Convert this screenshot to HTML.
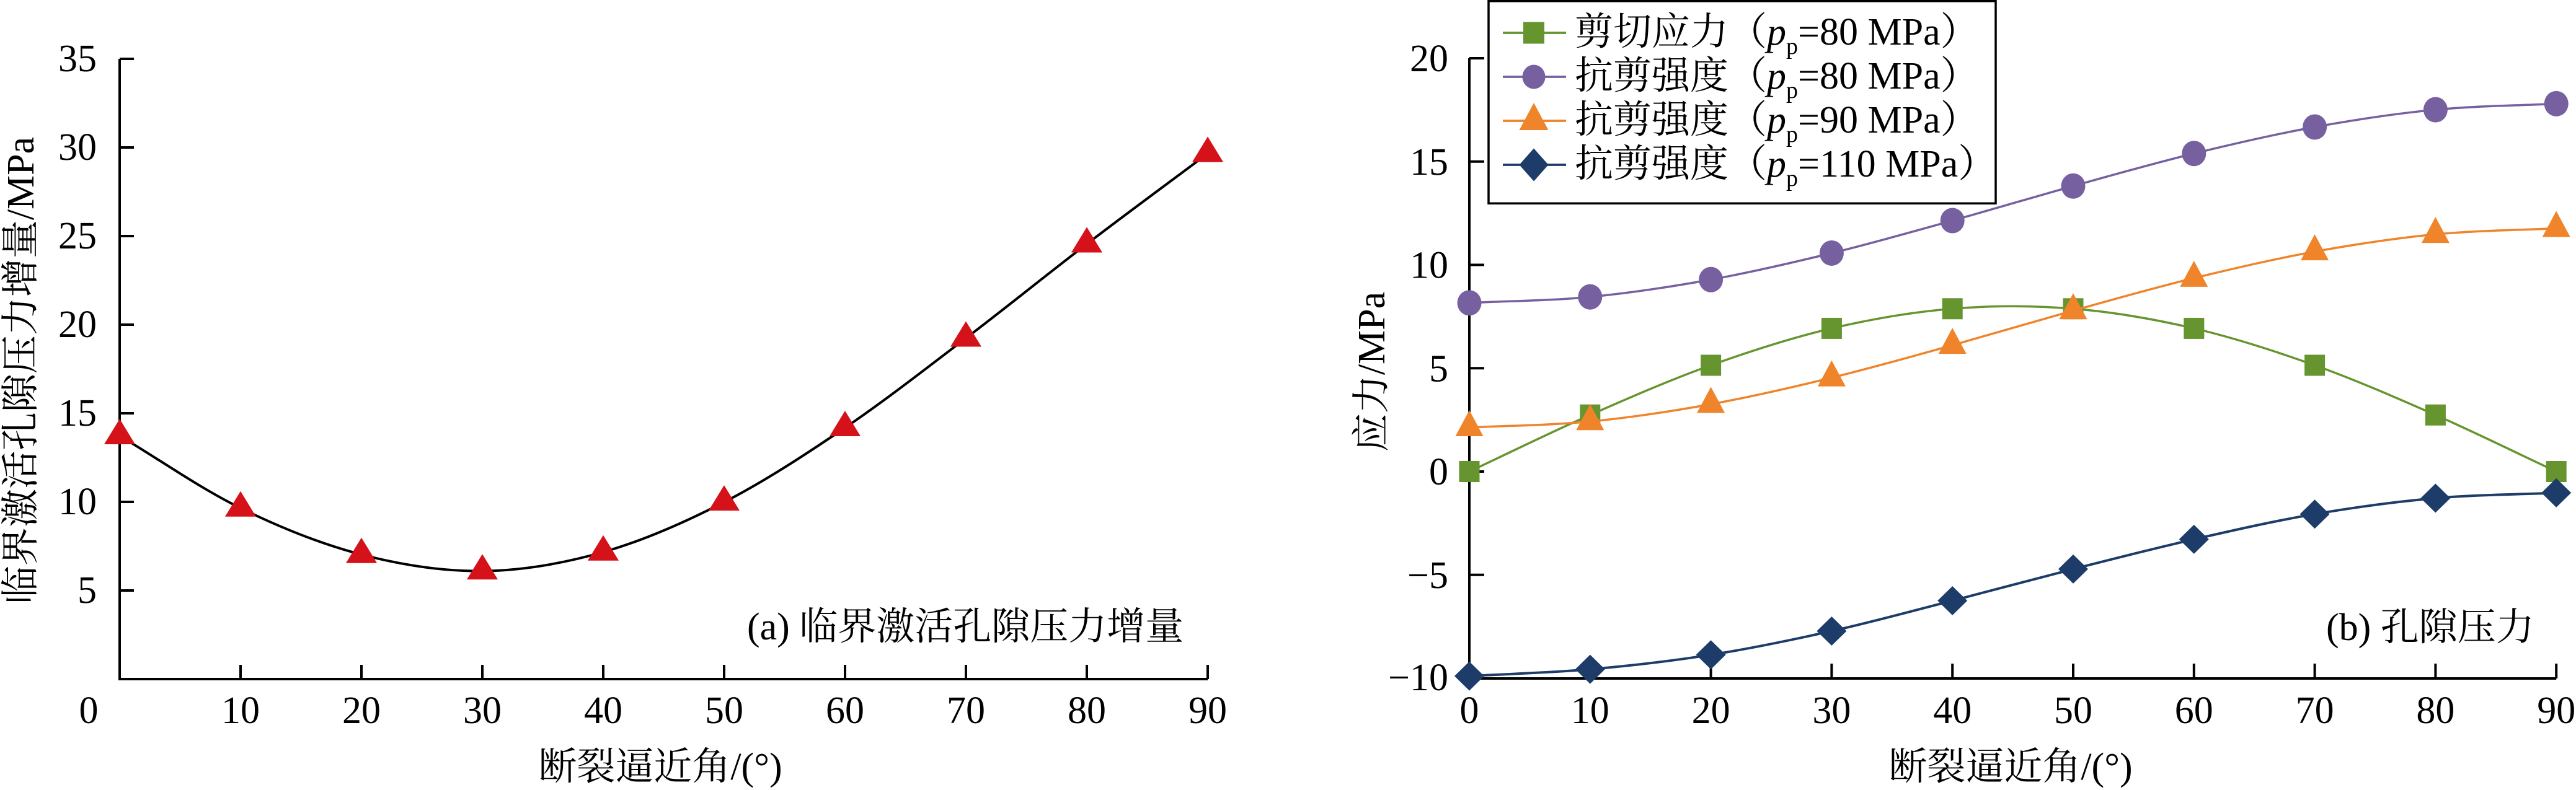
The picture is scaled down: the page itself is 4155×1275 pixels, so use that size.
<!DOCTYPE html>
<html>
<head>
<meta charset="utf-8">
<style>
html,body{margin:0;padding:0;background:#fff;}
svg{display:block;}
text{font-family:"Liberation Serif","Noto Serif CJK SC",serif;font-size:62px;fill:#000;}
</style>
</head>
<body>
<svg width="4155" height="1275" viewBox="0 0 4155 1275" xmlns="http://www.w3.org/2000/svg">
<rect x="0" y="0" width="4155" height="1275" fill="#fff"/>

<!-- ================= LEFT CHART ================= -->
<g stroke="#000" stroke-width="4" fill="none">
  <path d="M193,95 V1096 H1948"/>
  <!-- y ticks -->
  <path d="M193,95 H216 M193,238 H216 M193,381 H216 M193,524 H216 M193,667 H216 M193,810 H216 M193,953 H216"/>
  <!-- x ticks -->
  <path d="M388,1096 V1073 M583,1096 V1073 M778,1096 V1073 M973,1096 V1073 M1168,1096 V1073 M1363,1096 V1073 M1558,1096 V1073 M1753,1096 V1073 M1948,1096 V1073"/>
</g>
<g text-anchor="end">
  <text x="156" y="115">35</text>
  <text x="156" y="258">30</text>
  <text x="156" y="401">25</text>
  <text x="156" y="544">20</text>
  <text x="156" y="687">15</text>
  <text x="156" y="830">10</text>
  <text x="156" y="973">5</text>
</g>
<g text-anchor="middle">
  <text x="143" y="1167">0</text>
  <text x="388" y="1167">10</text>
  <text x="583" y="1167">20</text>
  <text x="778" y="1167">30</text>
  <text x="973" y="1167">40</text>
  <text x="1168" y="1167">50</text>
  <text x="1363" y="1167">60</text>
  <text x="1558" y="1167">70</text>
  <text x="1753" y="1167">80</text>
  <text x="1948" y="1167">90</text>
  <text x="1065" y="1258">断裂逼近角/(°)</text>
</g>
<text transform="translate(54,598) rotate(-90)" text-anchor="middle">临界激活孔隙压力增量/MPa</text>
<text x="1205" y="1032">(a) 临界激活孔隙压力增量</text>

<path fill="none" stroke="#000" stroke-width="4" d="M193,703.3 C258,742.2 323,788.05 388,820 C453,851.95 518,878.07 583,895 C648,911.93 713,922.27 778,921.6 C843,920.93 908,909.53 973,891 C1038,872.47 1103,843.85 1168,810.4 C1233,776.95 1298,734.4 1363,690.3 C1428,646.2 1493,595.22 1558,545.8 C1623,496.38 1688,443.47 1753,393.8 C1818,344.13 1883,296.47 1948,247.8"/>
<g fill="#D51119">
  <polygon points="193,676 168,717 218,717"/>
  <polygon points="388,792.7 363,833.7 413,833.7"/>
  <polygon points="583,867.7 558,908.7 608,908.7"/>
  <polygon points="778,894.3 753,935.3 803,935.3"/>
  <polygon points="973,863.7 948,904.7 998,904.7"/>
  <polygon points="1168,783.1 1143,824.1 1193,824.1"/>
  <polygon points="1363,663 1338,704 1388,704"/>
  <polygon points="1558,518.5 1533,559.5 1583,559.5"/>
  <polygon points="1753,366.5 1728,407.5 1778,407.5"/>
  <polygon points="1948,220.5 1923,261.5 1973,261.5"/>
</g>

<!-- ================= RIGHT CHART ================= -->
<g stroke="#000" stroke-width="4" fill="none">
  <path d="M2370,94 V1095 H4123.2"/>
  <path d="M2370,94 H2394 M2370,260.75 H2394 M2370,427.5 H2394 M2370,594.25 H2394 M2370,761 H2394 M2370,927.75 H2394"/>
  <path d="M2564.8,1095 V1071 M2759.6,1095 V1071 M2954.4,1095 V1071 M3149.2,1095 V1071 M3344,1095 V1071 M3538.8,1095 V1071 M3733.6,1095 V1071 M3928.4,1095 V1071 M4123.2,1095 V1071"/>
</g>
<g text-anchor="end">
  <text x="2336" y="115">20</text>
  <text x="2336" y="281.75">15</text>
  <text x="2336" y="448.5">10</text>
  <text x="2336" y="615.25">5</text>
  <text x="2336" y="782">0</text>
  <text x="2336" y="948.75">−5</text>
  <text x="2336" y="1114">−10</text>
</g>
<g text-anchor="middle">
  <text x="2370" y="1167">0</text>
  <text x="2564.8" y="1167">10</text>
  <text x="2759.6" y="1167">20</text>
  <text x="2954.4" y="1167">30</text>
  <text x="3149.2" y="1167">40</text>
  <text x="3344" y="1167">50</text>
  <text x="3538.8" y="1167">60</text>
  <text x="3733.6" y="1167">70</text>
  <text x="3928.4" y="1167">80</text>
  <text x="4123.2" y="1167">90</text>
  <text x="3243" y="1258">断裂逼近角/(°)</text>
</g>
<text transform="translate(2233,600) rotate(-90)" text-anchor="middle">应力/MPa</text>
<text x="3752" y="1033">(b) 孔隙压力</text>

<!-- green: shear stress -->
<path fill="none" stroke="#66952F" stroke-width="3.5" d="M2370,761 C2434.93,730.58 2499.87,698.33 2564.8,669.75 C2629.73,641.17 2694.67,612.81 2759.6,589.51 C2824.53,566.21 2889.47,545.16 2954.4,529.95 C3019.33,514.74 3084.27,503.55 3149.2,498.27 C3214.13,492.99 3279.07,492.99 3344,498.27 C3408.93,503.55 3473.87,514.74 3538.8,529.95 C3603.73,545.16 3668.67,566.21 3733.6,589.51 C3798.53,612.81 3863.47,641.17 3928.4,669.75 C3993.33,698.33 4058.27,730.58 4123.2,761"/>
<g fill="#66952F">
  <rect x="2353.5" y="744" width="33" height="34"/>
  <rect x="2548.3" y="652.75" width="33" height="34"/>
  <rect x="2743.1" y="572.51" width="33" height="34"/>
  <rect x="2937.9" y="512.95" width="33" height="34"/>
  <rect x="3132.7" y="481.27" width="33" height="34"/>
  <rect x="3327.5" y="481.27" width="33" height="34"/>
  <rect x="3522.3" y="512.95" width="33" height="34"/>
  <rect x="3717.1" y="572.51" width="33" height="34"/>
  <rect x="3911.9" y="652.75" width="33" height="34"/>
  <rect x="4106.7" y="744" width="33" height="34"/>
</g>

<!-- purple -->
<path fill="none" stroke="#76609F" stroke-width="3.5" d="M2370,488.86 C2434.93,485.63 2499.87,485.43 2564.8,479.16 C2629.73,472.89 2694.67,463.03 2759.6,451.25 C2824.53,439.47 2889.47,424.36 2954.4,408.49 C3019.33,392.62 3084.27,374.08 3149.2,356.03 C3214.13,337.98 3279.07,318.25 3344,300.2 C3408.93,282.15 3473.87,263.61 3538.8,247.74 C3603.73,231.87 3668.67,216.77 3733.6,204.99 C3798.53,193.21 3863.47,183.34 3928.4,177.07 C3993.33,170.8 4058.27,170.6 4123.2,167.37"/>
<g fill="#76609F">
  <ellipse cx="2370" cy="488.86" rx="19.5" ry="20.5"/>
  <ellipse cx="2564.8" cy="479.16" rx="19.5" ry="20.5"/>
  <ellipse cx="2759.6" cy="451.25" rx="19.5" ry="20.5"/>
  <ellipse cx="2954.4" cy="408.49" rx="19.5" ry="20.5"/>
  <ellipse cx="3149.2" cy="356.03" rx="19.5" ry="20.5"/>
  <ellipse cx="3344" cy="300.2" rx="19.5" ry="20.5"/>
  <ellipse cx="3538.8" cy="247.74" rx="19.5" ry="20.5"/>
  <ellipse cx="3733.6" cy="204.99" rx="19.5" ry="20.5"/>
  <ellipse cx="3928.4" cy="177.07" rx="19.5" ry="20.5"/>
  <ellipse cx="4123.2" cy="167.37" rx="19.5" ry="20.5"/>
</g>

<!-- orange -->
<path fill="none" stroke="#EF842B" stroke-width="3.5" transform="translate(0,201.1)" d="M2370,488.86 C2434.93,485.63 2499.87,485.43 2564.8,479.16 C2629.73,472.89 2694.67,463.03 2759.6,451.25 C2824.53,439.47 2889.47,424.36 2954.4,408.49 C3019.33,392.62 3084.27,374.08 3149.2,356.03 C3214.13,337.98 3279.07,318.25 3344,300.2 C3408.93,282.15 3473.87,263.61 3538.8,247.74 C3603.73,231.87 3668.67,216.77 3733.6,204.99 C3798.53,193.21 3863.47,183.34 3928.4,177.07 C3993.33,170.8 4058.27,170.6 4123.2,167.37"/>
<g fill="#EF842B">
  <polygon points="2370,661.96 2347.5,703.96 2392.5,703.96"/>
  <polygon points="2564.8,652.26 2542.3,694.26 2587.3,694.26"/>
  <polygon points="2759.6,624.35 2737.1,666.35 2782.1,666.35"/>
  <polygon points="2954.4,581.59 2931.9,623.59 2976.9,623.59"/>
  <polygon points="3149.2,529.13 3126.7,571.13 3171.7,571.13"/>
  <polygon points="3344,473.3 3321.5,515.3 3366.5,515.3"/>
  <polygon points="3538.8,420.84 3516.3,462.84 3561.3,462.84"/>
  <polygon points="3733.6,378.09 3711.1,420.09 3756.1,420.09"/>
  <polygon points="3928.4,350.17 3905.9,392.17 3950.9,392.17"/>
  <polygon points="4123.2,340.47 4100.7,382.47 4145.7,382.47"/>
</g>

<!-- navy -->
<path fill="none" stroke="#1E3C69" stroke-width="4" d="M2370,1091.17 C2434.93,1087.5 2499.87,1085.89 2564.8,1080.16 C2629.73,1074.43 2694.67,1067.09 2759.6,1056.81 C2824.53,1046.53 2889.47,1033.02 2954.4,1018.46 C3019.33,1003.9 3084.27,986.12 3149.2,969.44 C3214.13,952.76 3279.07,934.92 3344,918.41 C3408.93,901.9 3473.87,885.18 3538.8,870.39 C3603.73,855.6 3668.67,840.76 3733.6,829.7 C3798.53,818.64 3863.47,809.75 3928.4,804.02 C3993.33,798.29 4058.27,798.24 4123.2,795.35"/>
<g fill="#1E3C69">
  <polygon points="2370,1067.67 2394,1091.17 2370,1114.67 2346,1091.17"/>
  <polygon points="2564.8,1056.66 2588.8,1080.16 2564.8,1103.66 2540.8,1080.16"/>
  <polygon points="2759.6,1033.31 2783.6,1056.81 2759.6,1080.31 2735.6,1056.81"/>
  <polygon points="2954.4,994.96 2978.4,1018.46 2954.4,1041.96 2930.4,1018.46"/>
  <polygon points="3149.2,945.94 3173.2,969.44 3149.2,992.94 3125.2,969.44"/>
  <polygon points="3344,894.91 3368,918.41 3344,941.91 3320,918.41"/>
  <polygon points="3538.8,846.89 3562.8,870.39 3538.8,893.89 3514.8,870.39"/>
  <polygon points="3733.6,806.2 3757.6,829.7 3733.6,853.2 3709.6,829.7"/>
  <polygon points="3928.4,780.52 3952.4,804.02 3928.4,827.52 3904.4,804.02"/>
  <polygon points="4123.2,771.85 4147.2,795.35 4123.2,818.85 4099.2,795.35"/>
</g>

<!-- legend -->
<rect x="2401" y="1.75" width="818" height="326.5" fill="#fff" stroke="#000" stroke-width="3.5"/>
<line x1="2424" y1="53" x2="2526" y2="53" stroke="#66952F" stroke-width="3.7"/>
<rect x="2457" y="35.5" width="34" height="35" fill="#66952F"/>
<line x1="2424" y1="124" x2="2526" y2="124" stroke="#76609F" stroke-width="3.7"/>
<ellipse cx="2474" cy="124" rx="18.5" ry="19.5" fill="#76609F"/>
<line x1="2424" y1="195" x2="2526" y2="195" stroke="#EF842B" stroke-width="3.7"/>
<polygon points="2474,166 2450.5,210 2497.5,210" fill="#EF842B"/>
<line x1="2424" y1="266" x2="2526" y2="266" stroke="#1E3C69" stroke-width="3.7"/>
<polygon points="2474,239.5 2497.5,266 2474,292.5 2450.5,266" fill="#1E3C69"/>

<text x="2540" y="72">剪切应力（<tspan font-style="italic">p</tspan><tspan font-size="38" dy="15">p</tspan><tspan dy="-15">=80 MPa）</tspan></text>
<text x="2540" y="143">抗剪强度（<tspan font-style="italic">p</tspan><tspan font-size="38" dy="15">p</tspan><tspan dy="-15">=80 MPa）</tspan></text>
<text x="2540" y="214">抗剪强度（<tspan font-style="italic">p</tspan><tspan font-size="38" dy="15">p</tspan><tspan dy="-15">=90 MPa）</tspan></text>
<text x="2540" y="285">抗剪强度（<tspan font-style="italic">p</tspan><tspan font-size="38" dy="15">p</tspan><tspan dy="-15">=110 MPa）</tspan></text>
</svg>
</body>
</html>
